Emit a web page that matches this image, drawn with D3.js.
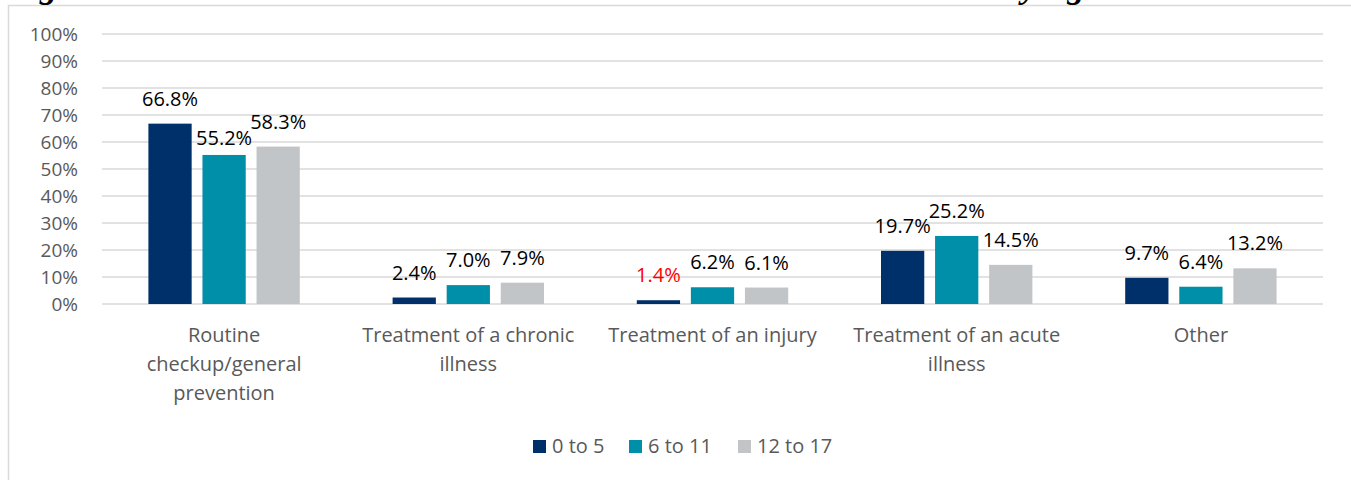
<!DOCTYPE html>
<html>
<head>
<meta charset="utf-8">
<script src="https://cdn.jsdelivr.net/npm/d3@7"></script>
<style>
  html, body { margin: 0; padding: 0; background: #fff; }
  svg { display: block; }
</style>
</head>
<body>
<svg id="chart" width="1351" height="480"></svg>
<script>
// ---- data ----
const titleText = "Figure 8: Main Reason Children Last Visited a Health Care Provider by Age";
const categories = [
  "Routine\ncheckup/general\nprevention",
  "Treatment of a chronic\nillness",
  "Treatment of an injury",
  "Treatment of an acute\nillness",
  "Other"
];
const seriesNames = ["0 to 5", "6 to 11", "12 to 17"];
const age0to5   = [66.8, 2.4, 1.4, 19.7, 9.7];
const age6to11  = [55.2, 7.0, 6.2, 25.2, 6.4];
const age12to17 = [58.3, 7.9, 6.1, 14.5, 13.2];
const yTicks = [0, 10, 20, 30, 40, 50, 60, 70, 80, 90, 100];
const colors = ["#003069", "#008FA8", "#C2C5C8"];

// ---- layout ----
const svg = d3.select("#chart");
const W = 1351, H = 480;
const plot = { left: 102, right: 1323, top: 34, bottom: 304 };

// frame
svg.append("rect")
  .attr("x", 8.5).attr("y", 5.5)
  .attr("width", W + 10).attr("height", H + 10)
  .attr("fill", "#fff")
  .attr("stroke", "#d9d9d9").attr("stroke-width", 1.5);

// title (cut off at top, only descenders visible)
const title = svg.append("text")
  .attr("font-family", "'Liberation Serif', 'DejaVu Serif', serif")
  .attr("font-weight", "bold").attr("font-style", "italic")
  .attr("font-size", 100)
  .attr("x", 0).attr("y", -2)
  .attr("fill", "#000")
  .text(titleText);
(function fitTitle() {
  const node = title.node();
  const gi = titleText.indexOf("g");
  const yi = titleText.indexOf("by ") + 1;
  const gx = node.getStartPositionOfChar(gi).x;
  const yx = node.getStartPositionOfChar(yi).x;
  const scale = (1022 - 40) / (yx - gx);
  const fs = 100 * scale;
  title.attr("font-size", fs).attr("x", 40 - gx * scale);
})();

const x0 = d3.scaleBand()
  .domain(categories)
  .range([plot.left, plot.right])
  .paddingInner(0.38).paddingOuter(0.19);
const x1 = d3.scaleBand()
  .domain(seriesNames)
  .range([0, x0.bandwidth()])
  .paddingInner(0.2).paddingOuter(0);
const y = d3.scaleLinear().domain([0, 100]).range([plot.bottom, plot.top]);

// gridlines
svg.append("g").selectAll("line").data(yTicks).join("line")
  .attr("x1", plot.left).attr("x2", plot.right)
  .attr("y1", d => y(d)).attr("y2", d => y(d))
  .attr("stroke", "#d9d9d9").attr("stroke-width", 1.5);

// y axis labels
const yAxis = d3.axisLeft(y).tickValues(yTicks).tickFormat(d => d + "%").tickSize(0).tickPadding(0);
const yg = svg.append("g").attr("transform", `translate(78,0)`).call(yAxis);
yg.select(".domain").remove();
yg.selectAll("text")
  .attr("font-family", "'Open Sans', sans-serif")
  .attr("font-size", 19).attr("fill", "#595959").attr("dy", "0.36em");

// bars
const series = [age0to5, age6to11, age12to17];
const rows = [];
series.forEach((vals, si) => vals.forEach((v, ci) => rows.push({ s: seriesNames[si], si, c: categories[ci], v })));

svg.append("g").selectAll("rect").data(rows).join("rect")
  .attr("x", d => x0(d.c) + x1(d.s))
  .attr("y", d => y(d.v))
  .attr("width", x1.bandwidth())
  .attr("height", d => y(0) - y(d.v))
  .attr("fill", d => colors[d.si]);

// data labels
const labelGap = 18;
const labelNudge = { "0,1": 8 };
const labelRed = { "2,0": true };
svg.append("g").selectAll("text").data(rows).join("text")
  .attr("x", d => x0(d.c) + x1(d.s) + x1.bandwidth() / 2)
  .attr("y", d => y(d.v) - labelGap + (labelNudge[categories.indexOf(d.c) + "," + d.si] || 0))
  .attr("text-anchor", "middle")
  .attr("font-family", "'Open Sans', sans-serif")
  .attr("font-size", 20)
  .attr("fill", d => labelRed[categories.indexOf(d.c) + "," + d.si] ? "#FF0000" : "#000")
  .text(d => d.v.toFixed(1) + "%");

// category labels
const xAxis = d3.axisBottom(x0).tickSize(0).tickFormat("");
svg.append("g").attr("transform", `translate(0,${plot.bottom})`).call(xAxis).select(".domain").remove();
const catG = svg.append("g");
categories.forEach(c => {
  const t = catG.append("text")
    .attr("text-anchor", "middle")
    .attr("font-family", "'Open Sans', sans-serif")
    .attr("font-size", 20).attr("fill", "#595959");
  c.split("\n").forEach((line, i) => {
    t.append("tspan").attr("x", x0(c) + x0.bandwidth() / 2).attr("y", 342 + i * 29).text(line);
  });
});

// legend
const legendX = [533, 629, 738];
const lg = svg.append("g");
seriesNames.forEach((n, i) => {
  lg.append("rect").attr("x", legendX[i]).attr("y", 440).attr("width", 13).attr("height", 13).attr("fill", colors[i]);
  lg.append("text").attr("x", legendX[i] + 19).attr("y", 453)
    .attr("font-family", "'Open Sans', sans-serif")
    .attr("font-size", 20).attr("fill", "#595959").text(n);
});
</script>
</body>
</html>
